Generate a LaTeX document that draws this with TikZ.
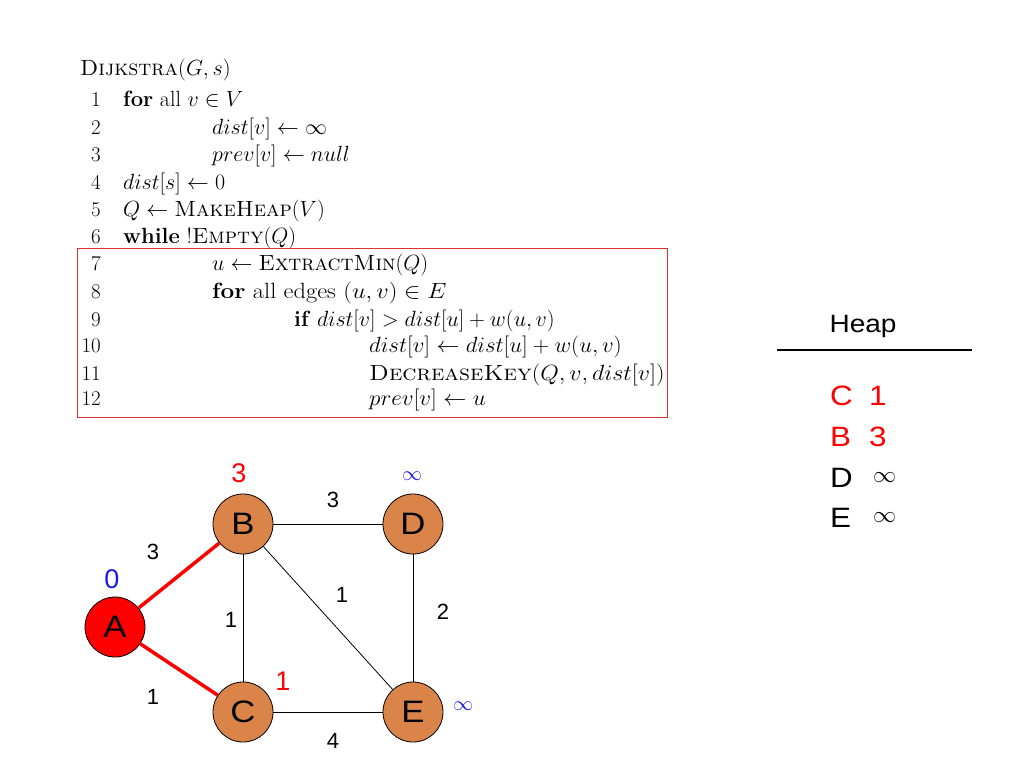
\RequirePackage{fix-cm}
\documentclass[tikz,border=0pt]{standalone}
\usepackage{graphicx}
\usepackage{fontspec}
\newfontfamily\arial{Liberation Sans}
\newcommand{\widetxt}[2][1.12]{\scalebox{#1}[1]{#2}}
\definecolor{nodeorange}{RGB}{218,132,74}
\definecolor{lblblue}{RGB}{25,25,235}
\definecolor{boxred}{RGB}{225,50,50}
\begin{document}
\begin{tikzpicture}[x=1pt,y=-1pt,
  code/.style={anchor=base west,inner sep=0pt,font=\fontsize{22}{22}\selectfont},
  lnum/.style={anchor=base east,inner sep=0pt,font=\fontsize{21}{21}\selectfont},
  vertex/.style={circle,draw=black,line width=0.8pt,minimum size=60pt,inner sep=0pt,fill=nodeorange,font=\arial\fontsize{31}{31}\selectfont},
  weight/.style={inner sep=0pt,font=\arial\fontsize{22}{22}\selectfont},
  distlbl/.style={inner sep=0pt,font=\arial\fontsize{27}{27}\selectfont},
  heapent/.style={anchor=base west,inner sep=0pt,font=\arial\fontsize{28}{28}\selectfont},
  thinedge/.style={draw=black,line width=0.8pt},
  redge/.style={draw=red,line width=3.5pt}]
\useasboundingbox (0,0) rectangle (1024,768);
% pseudocode
\node[code] (title) at (80,75) {\textsc{Dijkstra}$(G,s)$};
\node[lnum] (n1) at (101,106) {1};
\node[code] (l1) at (123,106) {\textbf{for} all $v\in V$};
\node[lnum] (n2) at (101,134) {2};
\node[code] (l2) at (212,134) {$dist[v]\leftarrow\infty$};
\node[lnum] (n3) at (101,161) {3};
\node[code] (l3) at (212,161) {$prev[v]\leftarrow null$};
\node[lnum] (n4) at (101,189) {4};
\node[code] (l4) at (123,189) {$dist[s]\leftarrow 0$};
\node[lnum] (n5) at (101,216) {5};
\node[code] (l5) at (123,216) {$Q\leftarrow{}$\textsc{MakeHeap}$(V)$};
\node[lnum] (n6) at (101,243) {6};
\node[code] (l6) at (123,243) {\textbf{while} !\textsc{Empty}$(Q)$};
\node[lnum] (n7) at (101,270) {7};
\node[code] (l7) at (212,270) {$u\leftarrow{}$\textsc{ExtractMin}$(Q)$};
\node[lnum] (n8) at (101,298) {8};
\node[code] (l8) at (212,298) {\widetxt[1.11]{\textbf{for} all edges $(u,v)\in E$}};
\node[lnum] (n9) at (101,326) {9};
\node[code] (l9) at (294,326) {\textbf{if} $dist[v]>dist[u]+w(u,v)$};
\node[lnum] (n10) at (101,352) {10};
\node[code] (l10) at (369,352) {\widetxt[1.04]{$dist[v]\leftarrow dist[u]+w(u,v)$}};
\node[lnum] (n11) at (101,380) {11};
\node[code] (l11) at (369,380) {\widetxt[1.09]{\textsc{DecreaseKey}$(Q,v,dist[v])$}};
\node[lnum] (n12) at (101,405) {12};
\node[code] (l12) at (369,405) {\widetxt[1.05]{$prev[v]\leftarrow u$}};
\draw[boxred,line width=1pt] (77,248) rectangle (667,417);
% heap
\node[anchor=base,inner sep=0pt,font=\arial\fontsize{25}{25}\selectfont] (heap) at (863,332) {\widetxt[1.12]{Heap}};
\draw[line width=2.5pt] (777,350) -- (972,350);
\node[heapent,text=red] (hC) at (830,405) {\widetxt{C}};
\node[heapent,text=red] (hC1) at (869,405) {\widetxt{1}};
\node[heapent,text=red] (hB) at (830,446) {\widetxt{B}};
\node[heapent,text=red] (hB3) at (869,446) {\widetxt{3}};
\node[heapent] (hD) at (830,487) {\widetxt{D}};
\node[anchor=west,inner sep=0pt,font=\fontsize{23}{23}\selectfont] (hDi) at (873,478) {$\infty$};
\node[heapent] (hE) at (830,527) {\widetxt{E}};
\node[anchor=west,inner sep=0pt,font=\fontsize{23}{23}\selectfont] (hEi) at (873,518) {$\infty$};
% graph
\node[vertex,fill=red] (A) at (115,627) {\widetxt{A}};
\node[vertex] (B) at (243,524) {\widetxt{B}};
\node[vertex] (C) at (243,712) {\widetxt{C}};
\node[vertex] (D) at (413,524) {\widetxt{D}};
\node[vertex] (E) at (413,712) {\widetxt{E}};
\draw[redge] (A) -- (B);
\draw[redge] (A) -- (C);
\draw[thinedge] (B) -- (D);
\draw[thinedge] (B) -- (C);
\draw[thinedge] (B) -- (E);
\draw[thinedge] (D) -- (E);
\draw[thinedge] (C) -- (E);
% weights
\node[weight] (wBD) at (333,500) {3};
\node[weight] (wAB) at (153,552) {3};
\node[weight] (wBE) at (342,595) {1};
\node[weight] (wDE) at (443,612) {2};
\node[weight] (wBC) at (231,620) {1};
\node[weight] (wAC) at (153,697) {1};
\node[weight] (wCE) at (333,741) {4};
% distance labels
\node[distlbl,text=red] (dB) at (239,473) {3};
\node[inner sep=0pt,text=lblblue,font=\fontsize{20}{20}\selectfont] (dD) at (412,476) {$\infty$};
\node[distlbl,text=lblblue] (dA) at (112,579) {0};
\node[distlbl,text=red] (dC) at (283,681) {1};
\node[inner sep=0pt,text=lblblue,font=\fontsize{20}{20}\selectfont] (dE) at (463,706) {$\infty$};
\end{tikzpicture}
\end{document}
